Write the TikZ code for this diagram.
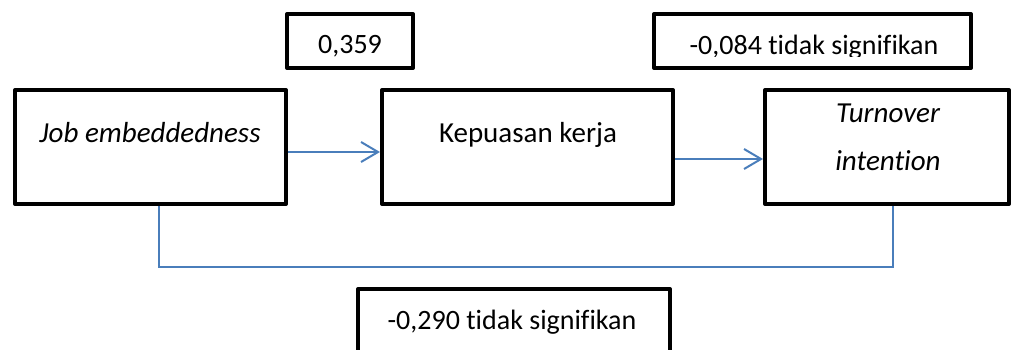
\documentclass[tikz,border=0pt]{standalone}
\usepackage{fontspec}
\setmainfont[Ligatures=NoCommon]{Carlito}
\usetikzlibrary{arrows.meta}
\definecolor{linkblue}{HTML}{4A7EBB}
\begin{document}
\begin{tikzpicture}[x=1pt,y=-1pt,
  box/.style={draw=black, line width=4pt, line join=round, fill=white, inner sep=0pt},
  lbl/.style={font=\fontsize{28}{34}\selectfont, inner sep=0pt, anchor=base},
  vlbl/.style={lbl, font=\fontsize{29}{35}\selectfont},
  ilbl/.style={lbl, font=\fontsize{29}{35}\selectfont\itshape},
  arr/.style={draw=linkblue, line width=2pt, -{Straight Barb[length=17pt,width=20pt]}},
  conn/.style={draw=linkblue, line width=1.5pt}]
\useasboundingbox (0,0) rectangle (1019,349);
\clip (0,0) rectangle (1019,349);

% variable boxes
\node[box, minimum width=271pt, minimum height=114pt] (job)  at (150.5,147) {};
\node[box, minimum width=291pt, minimum height=114pt] (kep)  at (527.5,147) {};
\node[box, minimum width=244pt, minimum height=114pt] (turn) at (887,147) {};

% coefficient boxes
\node[box, minimum width=126pt, minimum height=54pt]  (b359) at (350,41) {};
\node[box, minimum width=317pt, minimum height=54pt]  (b084) at (812.5,41) {};
\node[box, minimum width=312pt, minimum height=100pt] (b290) at (514,339) {};

% labels
\node[ilbl] (tjob) at (150,142) {Job embeddedness};
\node[vlbl] (tkep) at (528,142) {Kepuasan kerja};
\node[ilbl] (tturnA) at (888,122) {Turnover};
\node[ilbl] (tturnB) at (888,170) {intention};
\node[lbl]  (t359) at (350,53) {0,359};
\begin{scope}
  % the text runs past the bottom of its box and is cut off there
  \clip (655,15) rectangle (970,56.5);
  \node[lbl] (t084) at (814,54) {-0,084 tidak signifikan};
\end{scope}
\node[lbl] (t290) at (512,329) {-0,290 tidak signifikan};

% paths
\draw[arr] ([yshift=-5pt]job.east) -- ([yshift=-5pt]kep.west);
\draw[arr] ([yshift=-12pt]kep.east) -- ([yshift=-12pt]turn.west);
\coordinate (jb) at ([xshift=8.5pt]job.south);
\coordinate (tb) at ([xshift=6pt]turn.south);
\coordinate (lvl) at (0,267);
\draw[conn] (jb) -- (jb |- lvl) -- (tb |- lvl) -- (tb);
\end{tikzpicture}
\end{document}
